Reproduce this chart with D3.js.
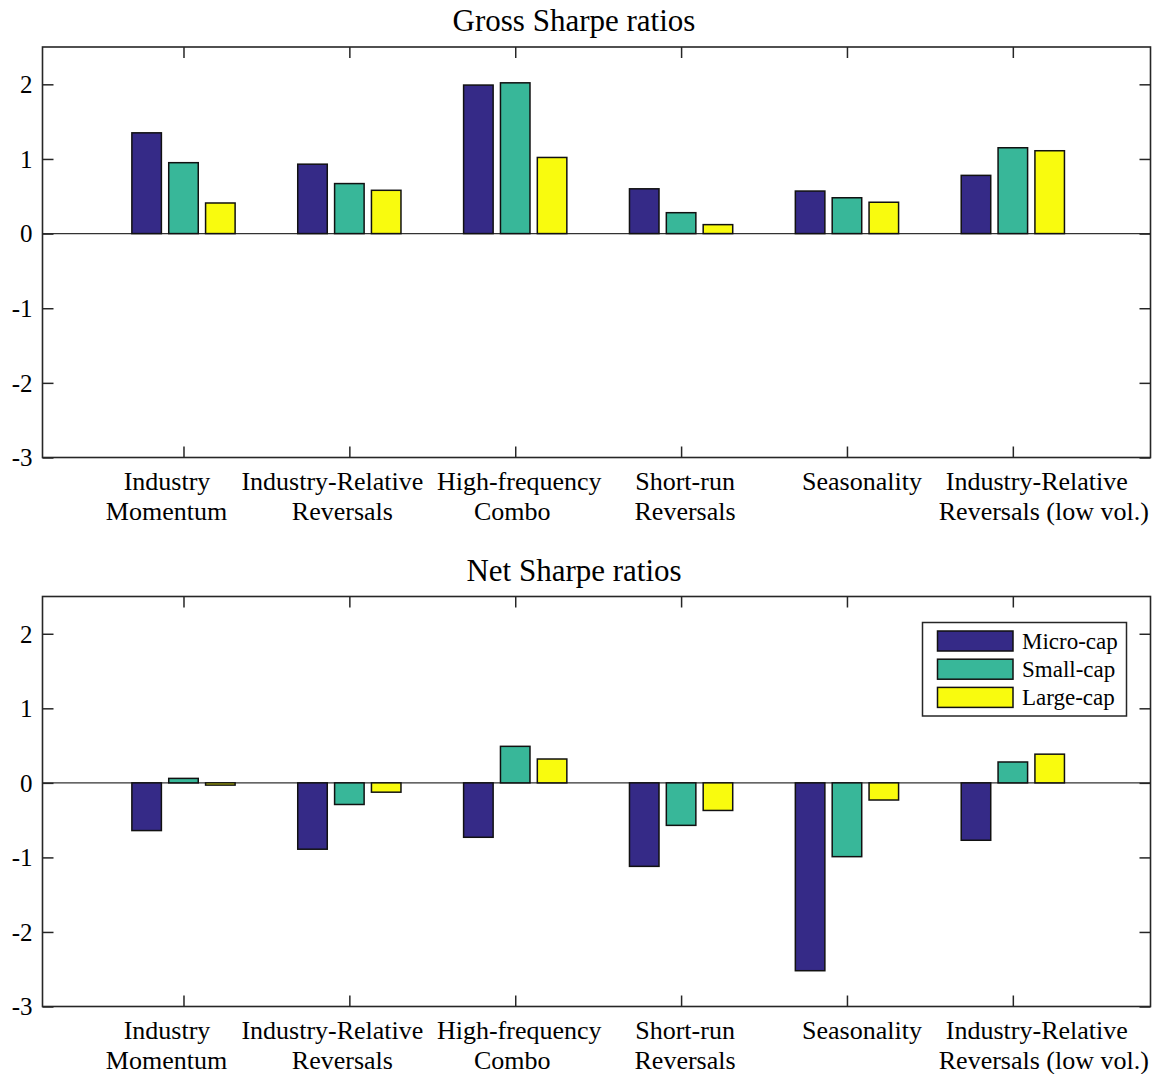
<!DOCTYPE html>
<html>
<head>
<meta charset="utf-8">
<script src="https://cdn.jsdelivr.net/npm/d3@7"></script>
<style>
  html, body { margin: 0; padding: 0; background: #fff; }
  svg { display: block; }
  text { font-family: "Liberation Serif", "Times New Roman", serif; fill: #000; }
</style>
</head>
<body>
<svg id="chart" width="1157" height="1074"></svg>
<script>
// ---- data ----
const categories = [
  ["Industry", "Momentum"],
  ["Industry-Relative", "Reversals"],
  ["High-frequency", "Combo"],
  ["Short-run", "Reversals"],
  ["Seasonality"],
  ["Industry-Relative", "Reversals (low vol.)"]
];
const seriesNames = ["Micro-cap", "Small-cap", "Large-cap"];
const grossMicro = [1.35, 0.93, 1.99, 0.60, 0.57, 0.78];
const grossSmall = [0.95, 0.67, 2.02, 0.28, 0.48, 1.15];
const grossLarge = [0.41, 0.58, 1.02, 0.12, 0.42, 1.11];
const netMicro = [-0.64, -0.89, -0.73, -1.12, -2.52, -0.77];
const netSmall = [0.06, -0.29, 0.49, -0.57, -0.99, 0.28];
const netLarge = [-0.03, -0.125, 0.32, -0.37, -0.23, 0.385];
const yTicks = [-3, -2, -1, 0, 1, 2];
const yTickLabels = ["-3", "-2", "-1", "0", "1", "2"];
const panelTitles = ["Gross Sharpe ratios", "Net Sharpe ratios"];

// ---- layout / style ----
const colors = ["#352a87", "#38b799", "#f9fb0e"];
const axisColor = "#262626";
const left = 42.5, right = 1150.5;
const panels = [
  { top: 47, bottom: 457.5, title: panelTitles[0], series: [grossMicro, grossSmall, grossLarge], legend: false },
  { top: 596.5, bottom: 1006.5, title: panelTitles[1], series: [netMicro, netSmall, netLarge], legend: true }
];
// per-line horizontal shifts of category labels (px, relative to tick)
const labelShift = [[-16.5, -17], [-17, -7], [4, -3], [4, 4], [15, 0], [24, 31]];

const svg = d3.select("#chart");
const x = d3.scaleLinear().domain([0.15, 6.83]).range([left, right]);
const groupOffset = 0.2222;
const barW = 0.178;
const tickLen = 11;

panels.forEach(p => {
  const y = d3.scaleLinear().domain([-3, 2.5]).range([p.bottom, p.top]);
  const g = svg.append("g");

  // title
  g.append("text")
    .attr("x", 574).attr("y", p.top - 16)
    .attr("text-anchor", "middle")
    .attr("font-size", 31)
    .text(p.title);

  // zero line
  g.append("line")
    .attr("x1", left).attr("x2", right)
    .attr("y1", y(0)).attr("y2", y(0))
    .attr("stroke", "#333").attr("stroke-width", 1.2);

  // bars
  p.series.forEach((vals, si) => {
    g.selectAll(null).data(vals).enter().append("rect")
      .attr("x", (d, i) => x(i + 1 + (si - 1) * groupOffset - barW / 2))
      .attr("width", x(barW) - x(0))
      .attr("y", d => y(Math.max(0, d)))
      .attr("height", d => Math.abs(y(d) - y(0)))
      .attr("fill", colors[si])
      .attr("stroke", "#111")
      .attr("stroke-width", 1.5);
  });

  // axes box
  g.append("rect")
    .attr("x", left).attr("y", p.top)
    .attr("width", right - left).attr("height", p.bottom - p.top)
    .attr("fill", "none").attr("stroke", axisColor).attr("stroke-width", 1.6);

  // y axis ticks (left, inward) with labels
  const yAxisL = d3.axisLeft(y).tickValues(yTicks).tickSize(-tickLen).tickPadding(10)
    .tickFormat((d, i) => yTickLabels[i]);
  const ga = g.append("g").attr("transform", `translate(${left},0)`).call(yAxisL);
  ga.select(".domain").remove();
  ga.selectAll(".tick line").attr("stroke", axisColor).attr("stroke-width", 1.5);
  ga.selectAll(".tick text").attr("font-size", 25).attr("font-family", "Liberation Serif").attr("fill", "#222").attr("dy", "0.33em");

  // y ticks right (inward)
  const yAxisR = d3.axisRight(y).tickValues(yTicks).tickSize(-tickLen).tickFormat("");
  const gr = g.append("g").attr("transform", `translate(${right},0)`).call(yAxisR);
  gr.select(".domain").remove();
  gr.selectAll(".tick line").attr("stroke", axisColor).attr("stroke-width", 1.5);

  // x ticks bottom & top (inward)
  const xt = d3.range(1, categories.length + 1);
  const xAxisB = d3.axisBottom(x).tickValues(xt).tickSize(-tickLen).tickFormat("");
  const gb = g.append("g").attr("transform", `translate(0,${p.bottom})`).call(xAxisB);
  gb.select(".domain").remove();
  gb.selectAll(".tick line").attr("stroke", axisColor).attr("stroke-width", 1.5);
  const xAxisT = d3.axisTop(x).tickValues(xt).tickSize(-tickLen).tickFormat("");
  const gt = g.append("g").attr("transform", `translate(0,${p.top})`).call(xAxisT);
  gt.select(".domain").remove();
  gt.selectAll(".tick line").attr("stroke", axisColor).attr("stroke-width", 1.5);

  // category labels
  categories.forEach((lines, i) => {
    lines.forEach((ln, li) => {
      g.append("text")
        .attr("x", x(i + 1) + labelShift[i][li])
        .attr("y", p.bottom + 32.5 + li * 30)
        .attr("text-anchor", "middle")
        .attr("font-size", 26)
        .text(ln);
    });
  });

  // legend
  if (p.legend) {
    const lg = g.append("g");
    lg.append("rect")
      .attr("x", 922.5).attr("y", 622.5).attr("width", 204).attr("height", 93.5)
      .attr("fill", "#fff").attr("stroke", axisColor).attr("stroke-width", 1.5);
    seriesNames.forEach((nm, si) => {
      const cy = 641 + si * 28.2;
      lg.append("rect")
        .attr("x", 937.5).attr("y", cy - 10).attr("width", 75.5).attr("height", 20)
        .attr("fill", colors[si]).attr("stroke", "#111").attr("stroke-width", 1.5);
      lg.append("text")
        .attr("x", 1022).attr("y", cy + 8)
        .attr("font-size", 23)
        .text(nm);
    });
  }
});
</script>
</body>
</html>
